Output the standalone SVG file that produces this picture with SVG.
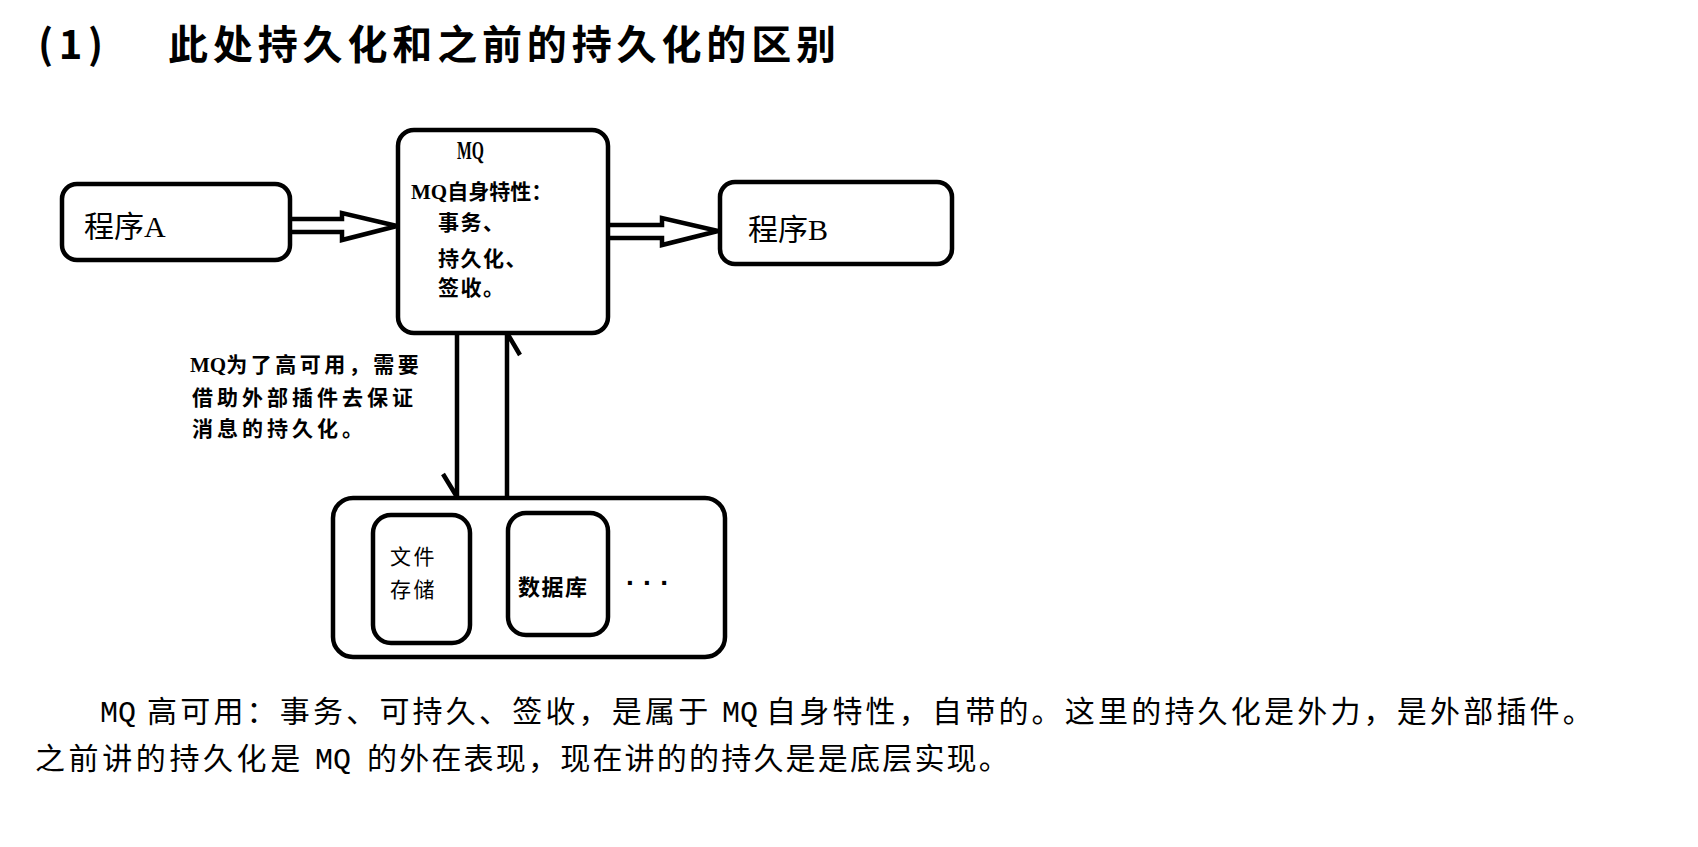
<svg xmlns="http://www.w3.org/2000/svg" width="1698" height="847" viewBox="0 0 1698 847">
<style>
.box{fill:#fff;stroke:#000;stroke-width:4.5}
.con{fill:none;stroke:#000;stroke-width:4.5;stroke-linejoin:miter}
.serif{font-family:"Liberation Serif","Noto Sans CJK SC",serif;fill:#000}
.bold{font-weight:bold}
.sans{font-family:"Noto Sans CJK SC",sans-serif;fill:#000}
.mono{font-family:"Liberation Mono",monospace;fill:#000;font-size:30px}
.l1{font-size:30px;letter-spacing:3.2px}
.l2a{font-size:30px;letter-spacing:3.6px}
.l2b{font-size:30px;letter-spacing:2.2px}
</style>
<rect width="1698" height="847" fill="#fff"/>
<g id="title">
<text class="sans bold" x="38" y="59" font-size="40" textLength="65">(1)</text>
<text class="sans bold" x="168" y="59" font-size="40" textLength="668">此处持久化和之前的持久化的区别</text>
</g>
<g id="connectors">
<path class="con" d="M290,219 H342 V213 L397,226 L342,240 V232 H290"/>
<path class="con" d="M607,225 H662 V218 L718,231 L662,245 V238 H607"/>
<path class="con" d="M457,333 V497 M443,474 L457,497"/>
<path class="con" d="M507,497 V333 M507,333 L520,355"/>
</g>
<g id="nodeA">
<rect class="box" x="62" y="184" width="228" height="76" rx="15"/>
<text class="serif" x="84" y="237" font-size="30">程序A</text>
</g>
<g id="nodeMQ">
<rect class="box" x="398" y="130" width="210" height="203" rx="16"/>
<text class="serif bold" x="457" y="159" font-size="25" textLength="27" lengthAdjust="spacingAndGlyphs">MQ</text>
<text class="serif bold" x="411" y="199" font-size="21">MQ自身特性：</text>
<text class="serif bold" x="438" y="230" font-size="21" letter-spacing="1.5">事务、</text>
<text class="serif bold" x="438" y="266" font-size="21" letter-spacing="1.5">持久化、</text>
<text class="serif bold" x="438" y="295" font-size="21" letter-spacing="1.5">签收。</text>
</g>
<g id="nodeB">
<rect class="box" x="720" y="182" width="232" height="82" rx="15"/>
<text class="serif" x="748" y="240" font-size="30">程序B</text>
</g>
<g id="label">
<text class="serif bold" x="190" y="372" font-size="21" letter-spacing="3.5"><tspan letter-spacing="0">MQ</tspan>为了高可用，需要</text>
<text class="serif bold" x="192" y="405" font-size="21" letter-spacing="4">借助外部插件去保证</text>
<text class="serif bold" x="192" y="436" font-size="21" letter-spacing="4">消息的持久化。</text>
</g>
<g id="storage">
<rect class="box" x="333" y="498" width="392" height="159" rx="20"/>
</g>
<g id="file">
<rect class="box" x="373" y="515" width="97" height="128" rx="18"/>
<text class="serif" x="390" y="564" font-size="21" letter-spacing="2.5">文件</text>
<text class="serif" x="390" y="597" font-size="21" letter-spacing="2.5">存储</text>
</g>
<g id="db">
<rect class="box" x="508" y="513" width="100" height="122" rx="18"/>
<text class="serif bold" x="518" y="595" font-size="22" letter-spacing="1.5">数据库</text>
</g>
<g id="more">
<text x="626" y="592" font-family="Liberation Sans, sans-serif" font-weight="bold" font-size="28">· · ·</text>
</g>
<g id="note">
<text class="mono" x="100" y="722">MQ</text>
<text class="sans l1" x="147" y="722">高可用：事务、可持久、签收，是属于</text>
<text class="mono" x="722" y="722">MQ</text>
<text class="sans l1" x="766" y="722">自身特性，自带的。这里的持久化是外力，是外部插件。</text>
<text class="sans l2a" x="35" y="769">之前讲的持久化是</text>
<text class="mono" x="315" y="769">MQ</text>
<text class="sans l2b" x="367" y="769">的外在表现，现在讲的的持久是是底层实现。</text>
</g>
</svg>
